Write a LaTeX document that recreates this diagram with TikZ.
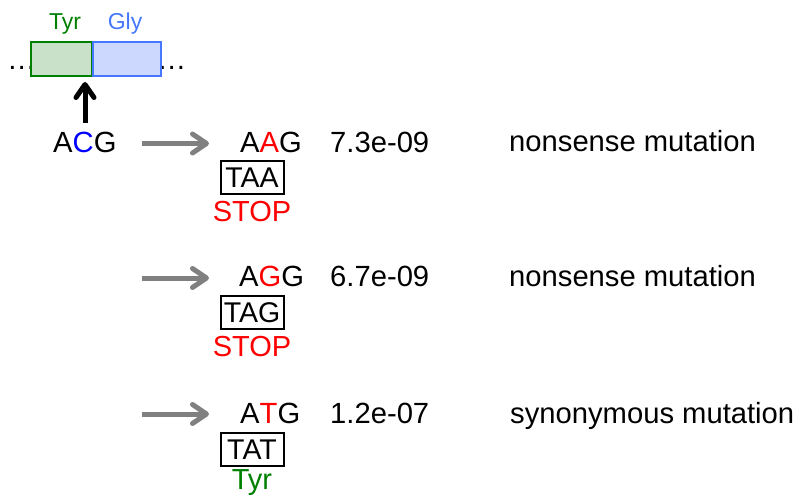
\documentclass[tikz,border=0pt]{standalone}
\usepackage{fontspec}
\setmainfont{Liberation Sans}
\usetikzlibrary{arrows.meta}
\definecolor{tgreen}{RGB}{0,128,0}
\definecolor{tgreenfill}{RGB}{200,225,200}
\definecolor{gblue}{RGB}{70,120,255}
\definecolor{gbluefill}{RGB}{205,216,255}
\definecolor{pureblue}{RGB}{0,0,255}
\definecolor{pred}{RGB}{255,0,0}
\definecolor{agray}{RGB}{128,128,128}
\begin{document}
\begin{tikzpicture}[x=1pt,y=-1pt,
  txt/.style={font=\fontsize{29.2}{34}\selectfont, inner sep=0pt, anchor=base west},
  ctxt/.style={font=\fontsize{29}{34}\selectfont, inner sep=0pt, anchor=base},
  small/.style={font=\fontsize{23}{28}\selectfont, inner sep=0pt, anchor=base},
  codon/.style={draw, line width=2pt, font=\fontsize{28.5}{32}\selectfont, inner sep=0pt, minimum width=63pt, minimum height=33pt},
  garrow/.style={draw=agray, line width=5pt, -{Straight Barb[length=14pt,width=19pt,round]}},
  barrow/.style={draw=black, line width=5pt, -{Straight Barb[length=13pt,width=18pt,round]}}]
\useasboundingbox (0,0) rectangle (798,497);
% dots behind the boxes
\node[txt] (ldots) at (7,70) {…};
\node[txt] (rdots) at (157,70) {…};
% codon boxes
\draw[draw=tgreen, fill=tgreenfill, line width=2.5pt] (31,42) rectangle (92,76);
\draw[draw=gblue, fill=gbluefill, line width=2.5pt] (93,42) rectangle (161,76);
\coordinate (boxbottom) at (85,82);
\node[small, text=tgreen] (tyrlab) at (65,30) {Tyr};
\node[small, text=gblue] (glylab) at (125,30) {Gly};
% original codon
\node[txt] (acg) at (53,153) {A\textcolor{pureblue}{C}G};
\draw[barrow] (85,123) -- (boxbottom);
% row 1
\coordinate (a1s) at (142,143.5);
\coordinate (a1e) at (209,143.5);
\draw[garrow] (a1s) -- (a1e);
\node[txt] (aag) at (240,153) {A\textcolor{pred}{A}G};
\node[txt] (p1) at (330,153) {7.3e-09};
\node[txt] (m1) at (509,152) {nonsense mutation};
\node[codon] (taa) at (252,178) {TAA};
\node[ctxt, text=pred] (stop1) at (252,222) {STOP};
% row 2
\coordinate (a2s) at (142,278);
\coordinate (a2e) at (209,278);
\draw[garrow] (a2s) -- (a2e);
\node[txt] (agg) at (239,287) {A\textcolor{pred}{G}G};
\node[txt] (p2) at (330,287) {6.7e-09};
\node[txt] (m2) at (509,286) {nonsense mutation};
\node[codon] (tag) at (252,312.5) {TAG};
\node[ctxt, text=pred] (stop2) at (252,356) {STOP};
% row 3
\coordinate (a3s) at (142,414);
\coordinate (a3e) at (209,414);
\draw[garrow] (a3s) -- (a3e);
\node[txt] (atg) at (240,423) {A\textcolor{pred}{T}G};
\node[txt] (p3) at (330,423) {1.2e-07};
\node[txt] (m3) at (510,423) {synonymous mutation};
\node[codon] (tat) at (252,449.5) {TAT};
\node[ctxt, text=tgreen] (tyr3) at (252,489.5) {Tyr};
\end{tikzpicture}
\end{document}
